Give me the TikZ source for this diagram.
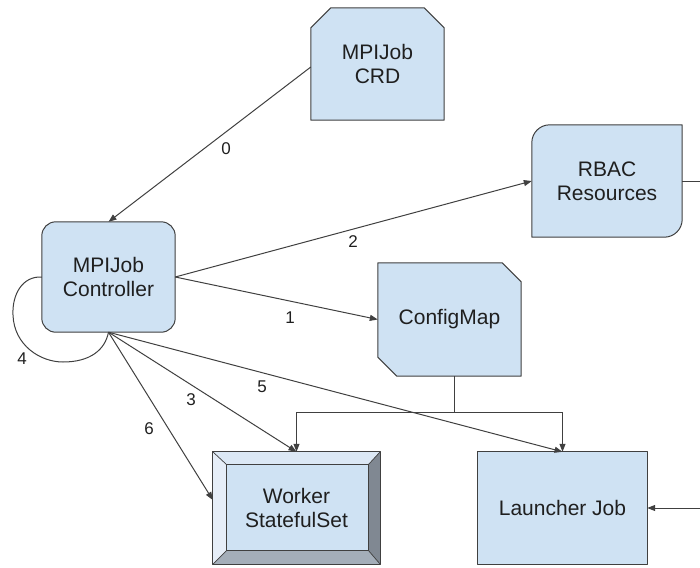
\documentclass[tikz,border=0pt]{standalone}
\usepackage{fontspec}
\setmainfont{Liberation Sans}
\usetikzlibrary{calc,arrows.meta,backgrounds}

\definecolor{boxfill}{HTML}{CFE2F3}
\definecolor{ink}{HTML}{404040}
\definecolor{txt}{HTML}{1F1F1F}
\definecolor{bevtop}{HTML}{DCE8F5}
\definecolor{bevleft}{HTML}{E6EEF8}
\definecolor{bevbot}{HTML}{A4AEB9}
\definecolor{bevright}{HTML}{808892}

\begin{document}
\begin{tikzpicture}[x=1pt,y=-1pt,
  holder/.style={rectangle,inner sep=0pt,text=txt,align=center,
                 font=\fontsize{21}{24}\selectfont},
  outline/.style={draw=ink,fill=boxfill,line width=1pt,line join=round},
  bevelline/.style={draw=ink,line width=0.7pt,line join=round},
  plain/.style={draw=ink,line width=1pt},
  conn/.style={plain,-{Triangle[length=8pt,width=6pt]}},
  lbl/.style={font=\fontsize{17}{20}\selectfont,text=txt,inner sep=0pt}]

\useasboundingbox (0,0) rectangle (700,567);

% node frames (text holders)
\node[holder,minimum width=133pt,minimum height=112pt] (crd)  at (377.5,64)  {MPIJob\\CRD};
\node[holder,minimum width=133pt,minimum height=110pt] (ctrl) at (108.5,277) {MPIJob\\Controller};
\node[holder,minimum width=150pt,minimum height=112pt] (rbac) at (607,181)   {RBAC\\Resources};
\node[holder,minimum width=143pt,minimum height=113pt] (cfg)  at (449.5,319.5) {ConfigMap};
\node[holder,minimum width=167pt,minimum height=112pt] (wss)  at (296.5,508) {Worker\\StatefulSet};
\node[holder,minimum width=169pt,minimum height=112pt] (lj)   at (562.5,508) {Launcher Job};

\coordinate (rbacout) at (700,181);
\coordinate (ljfeed)  at (700,508);

\begin{scope}[on background layer]
  % MPIJob CRD: top corners chamfered
  \path[outline] ($(crd.north west)+(20,0)$) -- ($(crd.north east)+(-20,0)$)
    -- ($(crd.north east)+(0,20)$) -- (crd.south east) -- (crd.south west)
    -- ($(crd.north west)+(0,20)$) -- cycle;
  % MPIJob Controller: rounded rectangle
  \path[outline,rounded corners=14pt] (ctrl.north west) rectangle (ctrl.south east);
  % RBAC Resources: two opposite rounded corners
  \path[outline] ($(rbac.north west)+(0,18)$)
    .. controls ($(rbac.north west)+(0,8)$) and ($(rbac.north west)+(8,0)$) .. ($(rbac.north west)+(18,0)$)
    -- (rbac.north east) -- ($(rbac.south east)+(0,-18)$)
    .. controls ($(rbac.south east)+(0,-8)$) and ($(rbac.south east)+(-8,0)$) .. ($(rbac.south east)+(-18,0)$)
    -- (rbac.south west) -- cycle;
  % ConfigMap: top-right and bottom-left chamfered
  \path[outline] (cfg.north west) -- ($(cfg.north east)+(-19,0)$)
    -- ($(cfg.north east)+(0,19)$) -- (cfg.south east)
    -- ($(cfg.south west)+(19,0)$) -- ($(cfg.south west)+(0,-19)$) -- cycle;
  % Worker StatefulSet: bevelled frame
  \coordinate (iA) at ($(wss.north west)+(14,13)$);
  \coordinate (iB) at ($(wss.north east)+(-12,13)$);
  \coordinate (iC) at ($(wss.south east)+(-12,-14)$);
  \coordinate (iD) at ($(wss.south west)+(14,-14)$);
  \fill[bevtop]   (wss.north west) -- (wss.north east) -- (iB) -- (iA) -- cycle;
  \fill[bevleft]  (wss.north west) -- (iA) -- (iD) -- (wss.south west) -- cycle;
  \fill[bevbot]   (wss.south west) -- (iD) -- (iC) -- (wss.south east) -- cycle;
  \fill[bevright] (wss.north east) -- (wss.south east) -- (iC) -- (iB) -- cycle;
  \fill[boxfill]  (iA) rectangle (iC);
  \path[bevelline] (iA) rectangle (iC);
  \path[bevelline] (wss.north west) -- (iA) (wss.north east) -- (iB)
                   (wss.south east) -- (iC) (wss.south west) -- (iD);
  \path[outline,fill=none] (wss.north west) rectangle (wss.south east);
  % Launcher Job: plain rectangle
  \path[outline] (lj.north west) rectangle (lj.south east);
\end{scope}

% connectors
\draw[conn] ([yshift=-3pt]crd.west) -- (ctrl.north);
\node[lbl] (l0) at (226,149) {0};
\draw[conn] (ctrl.east) -- (rbac.west);
\node[lbl] (l2) at (353,242) {2};
\draw[conn] (ctrl.east) -- (cfg.west);
\node[lbl] (l1) at (290,318) {1};
\draw[conn] (ctrl.south) -- (wss.north);
\node[lbl] (l3) at (191,400) {3};
\draw[conn] (ctrl.south) -- (lj.north);
\node[lbl] (l5) at (262,387) {5};
\draw[conn] (ctrl.south) -- ([yshift=8pt]wss.west);
\node[lbl] (l6) at (149,429) {6};

% self loop
\draw[plain] (ctrl.west) .. controls (22,276) and (12,295) .. (13,315)
  .. controls (14,345) and (40,362) .. (63,362)
  .. controls (90,362) and (105,350) .. (ctrl.south);
\node[lbl] (l4) at (22,359) {4};

% ConfigMap feeds both workloads
\coordinate (split) at ([xshift=4.5pt]cfg.south |- 0,412);
\draw[plain] ([xshift=4.5pt]cfg.south) -- (split);
\draw[conn] (split) -| (wss.north);
\draw[conn] (split) -| (lj.north);

% edges leaving the frame on the right
\draw[plain] (rbac.east) -- (rbacout);
\draw[conn] (ljfeed) -- (lj.east);
\end{tikzpicture}
\end{document}
